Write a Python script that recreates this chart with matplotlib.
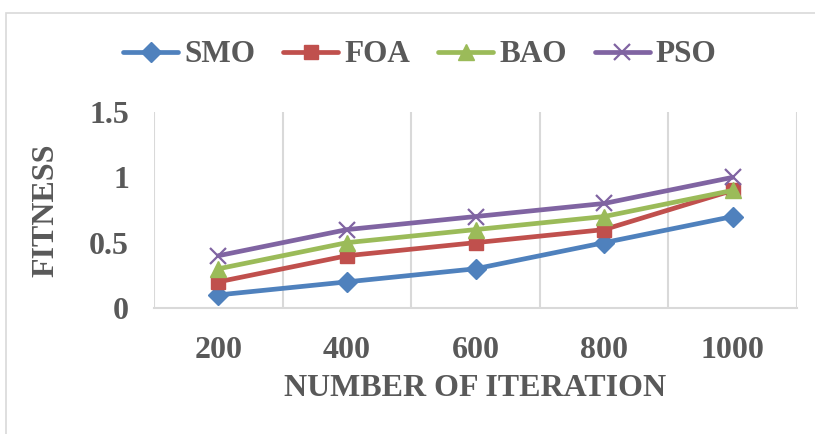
import matplotlib
matplotlib.use("Agg")
import matplotlib.pyplot as plt
from matplotlib.patches import Rectangle
import numpy as np

iterations = ["200", "400", "600", "800", "1000"]
smo = [0.1, 0.2, 0.3, 0.5, 0.7]
foa = [0.2, 0.4, 0.5, 0.6, 0.9]
bao = [0.3, 0.5, 0.6, 0.7, 0.9]
pso = [0.4, 0.6, 0.7, 0.8, 1.0]
y_ticks = [0, 0.5, 1, 1.5]
y_tick_labels = ["0", "0.5", "1", "1.5"]

TEXT = "#595959"
GRID = "#d9d9d9"
FONT = "Liberation Serif"

W, H = 815, 434
fig = plt.figure(figsize=(W / 100, H / 100), dpi=100)
fig.patch.set_facecolor("white")

# outer chart frame
fig.patches.append(Rectangle((6 / W, -0.1), 1.1, (H - 13) / H + 0.1,
                             transform=fig.transFigure, fill=False,
                             edgecolor=GRID, linewidth=1.2))

left, right, top, bottom = 154, 797, 112, 308
ax = fig.add_axes([left / W, (H - bottom) / H, (right - left) / W, (bottom - top) / H])

x = np.arange(len(iterations))
series = [
    ("SMO", smo, "#4F81BD", "D", 10),
    ("FOA", foa, "#C0504D", "s", 10),
    ("BAO", bao, "#9BBB59", "^", 12),
    ("PSO", pso, "#8064A2", "x", 12),
]
for name, vals, color, marker, ms in series:
    ax.plot(x, vals, color=color, linewidth=3.4, marker=marker, markersize=ms,
            markeredgewidth=1.6 if marker == "x" else 1.0,
            markerfacecolor=color, markeredgecolor=color, label=name,
            solid_capstyle="round", clip_on=False)

ax.set_xlim(-0.5, len(iterations) - 0.5)
ax.set_ylim(0, 1.5)
ax.set_xticks(x)
ax.set_xticklabels(iterations)
ax.set_xticks(np.arange(-0.5, len(iterations), 1.0), minor=True)
ax.set_yticks(y_ticks)
ax.set_yticklabels(y_tick_labels)
ax.grid(which="minor", axis="x", color=GRID, linewidth=1.5)
ax.tick_params(which="both", length=0)
ax.tick_params(axis="y", pad=18)
ax.tick_params(axis="x", pad=20)
for lab in ax.get_xticklabels() + ax.get_yticklabels():
    lab.set_fontfamily(FONT)
    lab.set_fontweight("bold")
    lab.set_fontsize(23)
    lab.set_color(TEXT)

for s in ["top", "right", "left"]:
    ax.spines[s].set_visible(False)
ax.spines["bottom"].set_color(GRID)
ax.spines["bottom"].set_linewidth(1.5)
ax.set_axisbelow(True)

fig.text(475 / W, 1 - 389 / H, "NUMBER OF ITERATION", ha="center", va="center",
         fontfamily=FONT, fontweight="bold", fontsize=23, color=TEXT)
fig.text(46 / W, 1 - 210 / H, "FITNESS", ha="center", va="center", rotation=90,
         fontfamily=FONT, fontweight="bold", fontsize=23, color=TEXT)

leg = fig.legend(loc="center", bbox_to_anchor=(420 / W, 1 - 55 / H), ncol=4,
                 frameon=False, handlelength=1.75, handletextpad=0.2,
                 columnspacing=0.9, prop={"family": FONT, "weight": "bold", "size": 22.5})
for t in leg.get_texts():
    t.set_color(TEXT)

fig.savefig("out.png", dpi=100, facecolor="white")
